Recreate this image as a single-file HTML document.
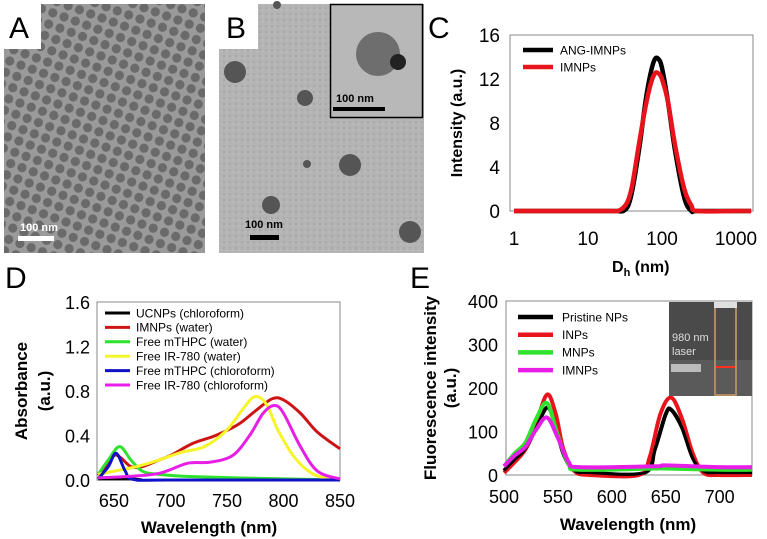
<!DOCTYPE html>
<html><head><meta charset="utf-8">
<style>
html,body{margin:0;padding:0;background:#fff;width:767px;height:539px;overflow:hidden;font-family:"Liberation Sans",Arial,sans-serif}
svg{position:absolute;left:0;top:0}
</style></head>
<body>
<svg id="fig" width="767" height="539" viewBox="0 0 767 539" xmlns="http://www.w3.org/2000/svg">
<defs>
<pattern id="npA" width="12" height="12" patternUnits="userSpaceOnUse" patternTransform="rotate(20)">
<rect width="12" height="12" fill="#9a9a9a"/>
<circle cx="6" cy="6" r="4.6" fill="#6a6a6a"/>
</pattern>
<pattern id="noiseB" width="6" height="6" patternUnits="userSpaceOnUse">
<rect width="6" height="6" fill="#b4b4b4"/><circle cx="2" cy="2" r="1" fill="#a4a4a4"/><circle cx="5" cy="4" r="0.8" fill="#c2c2c2"/>
</pattern>
</defs>
<g>
<rect x="4" y="4" width="201" height="249" fill="url(#npA)"/>
<rect x="4" y="4" width="37" height="45" fill="#fff"/>
<text x="9" y="38" font-size="30" fill="#000">A</text>
<text x="20" y="231" font-size="11" font-weight="bold" fill="#fff">100 nm</text>
<rect x="18" y="236" width="36" height="5" fill="#fff"/>
</g>
<g>
<rect x="219" y="4" width="205" height="249" fill="url(#noiseB)"/>
<rect x="219" y="4" width="39" height="45" fill="#fff"/>
<text x="226" y="38" font-size="30" fill="#000">B</text>
<g fill="#555">
<circle cx="235" cy="72" r="11"/><circle cx="305" cy="98" r="8"/><circle cx="307" cy="164" r="4"/><circle cx="350" cy="165" r="11"/><circle cx="271" cy="205" r="9"/><circle cx="410" cy="232" r="11"/><circle cx="277" cy="5" r="4"/>
</g>
<text x="245" y="228" font-size="11" font-weight="bold" fill="#000">100 nm</text>
<rect x="250" y="235" width="29" height="5" fill="#000"/>
<g>
<rect x="330.5" y="4.5" width="92" height="113" fill="#b8b8b8" stroke="#000" stroke-width="1.5"/>
<circle cx="378" cy="54" r="22" fill="#6e6e6e"/><circle cx="398" cy="62" r="8" fill="#222"/>
<text x="336" y="102" font-size="11" font-weight="bold" fill="#000">100 nm</text>
<rect x="333" y="107" width="52" height="4" fill="#000"/>
</g>
</g>
<text x="428" y="38" font-size="30" fill="#000">C</text>
<text x="5" y="288" font-size="30" fill="#000">D</text>
<text x="410" y="288" font-size="30" fill="#000">E</text>
<g id="chartC"></g>
<g id="chartD"></g>
<g id="chartE"></g>
</svg>
<script>
// ---- Chart C data ----
const cX = [1,10,20,25,30,35,40,50,60,70,80,90,100,120,150,200,250,300,1000,1600];
const cAng = [0,0,0,0,0,0.5,2,6,10,12.5,13.8,13.8,13,10,5.5,1.2,0,0,0,0];
const cImnp = [0,0,0,0,0.3,1,2.5,6.5,9.5,11.5,12.5,12.5,12,10,6,2,0.5,0,0,0];
const cYTicks = [0,4,8,12,16];
const cXTicks = [1,10,100,1000];
const cSeriesNames = ["ANG-IMNPs","IMNPs"];
// ---- Chart D data ----
const dXTicks = [650,700,750,800,850];
const dYTicks = ["0.0","0.4","0.8","1.2","1.6"];
const dNames = ["UCNPs (chloroform)","IMNPs (water)","Free mTHPC (water)","Free IR-780 (water)","Free mTHPC (chloroform)","Free IR-780 (chloroform)"];
const dUcX = [636,645,655,665,675];
const dUcY = [0.01,0.01,0.01,0.01,0];
const dRedX = [636,642,650,656,665,675,690,700,720,740,760,775,790,800,815,830,850];
const dRedY = [0.04,0.12,0.22,0.2,0.12,0.12,0.18,0.22,0.33,0.4,0.5,0.62,0.73,0.72,0.6,0.43,0.28];
const dGrnX = [636,645,655,665,675,690,720,800,850];
const dGrnY = [0.05,0.18,0.3,0.18,0.08,0.05,0.03,0.01,0];
const dYelX = [636,650,670,690,710,730,750,765,775,785,795,810,825,840,850];
const dYelY = [0.05,0.08,0.12,0.18,0.25,0.3,0.45,0.65,0.75,0.68,0.45,0.2,0.06,0.01,0];
const dBluX = [636,645,652,660,667,700,850];
const dBluY = [0.01,0.12,0.24,0.08,0.005,0,0];
const dMagX = [636,660,690,715,735,755,770,782,792,800,815,830,850];
const dMagY = [0.02,0.03,0.06,0.15,0.16,0.22,0.4,0.6,0.67,0.6,0.3,0.08,0.01];
// ---- Chart E data ----
const eXTicks = [500,550,600,650,700];
const eYTicks = [0,100,200,300,400];
const eNames = ["Pristine NPs","INPs","MNPs","IMNPs"];
const eBlkX = [500,510,520,530,540,547,555,565,580,630,640,650,655,665,675,685,700,730];
const eBlkY = [10,35,60,110,155,120,50,10,5,5,60,140,150,110,40,8,5,5];
const eRedX = [500,510,520,530,540,548,555,565,580,625,635,645,655,665,675,685,700,730];
const eRedY = [5,30,60,120,185,140,60,10,0,0,40,140,178,130,50,5,0,0];
const eGrnX = [500,510,520,530,540,550,560,570,640,650,700,730];
const eGrnY = [20,50,75,130,165,90,25,12,15,15,12,12];
const eMagX = [500,510,520,530,540,550,560,570,640,650,700,730];
const eMagY = [20,45,65,105,132,85,30,18,20,22,18,18];

const NS="http://www.w3.org/2000/svg";
function mk(parent,tag,attrs,txt){const e=document.createElementNS(NS,tag);for(const k in attrs)e.setAttribute(k,attrs[k]);if(txt!==undefined)e.textContent=txt;parent.appendChild(e);return e;}
function smooth(pts){let d="M"+pts[0][0]+","+pts[0][1];for(let i=0;i<pts.length-1;i++){const p0=pts[i-1]||pts[i],p1=pts[i],p2=pts[i+1],p3=pts[i+2]||p2;const c1=[p1[0]+(p2[0]-p0[0])/6,p1[1]+(p2[1]-p0[1])/6],c2=[p2[0]-(p3[0]-p1[0])/6,p2[1]-(p3[1]-p1[1])/6];d+=" C"+c1+" "+c2+" "+p2;}return d;}
function series(g,xs,ys,sx,sy,color,w,name){const p=mk(g,"path",{d:smooth(xs.map((x,i)=>[sx(x),sy(ys[i])])),fill:"none",stroke:color,"stroke-width":w,"stroke-linejoin":"round"});


return p;}
function frame(g,x0,y0,x1,y1){const r=mk(g,"rect",{x:x0,y:y0,width:x1-x0,height:y1-y0,fill:"none",stroke:"#888","stroke-width":1});

}
function legend(g,names,colors,lx0,lx1,tx,y0,dy,fs,w){names.forEach((n,i)=>{const y=y0+i*dy;const l=mk(g,"line",{x1:lx0,x2:lx1,y1:y,y2:y,stroke:colors[i],"stroke-width":w});


const t=mk(g,"text",{x:tx,y:y+fs*0.36,"font-size":fs,fill:"#000"},n);

});}
function tickLabel(g,x,y,s,anchor,fs){const t=mk(g,"text",{x:x,y:y,"font-size":fs,"text-anchor":anchor,fill:"#000"},s);

}

// Chart C
(function(){const g=document.getElementById("chartC");const X0=510,X1=753,Y0=35,Y1=211;
const sx=v=>514+74*Math.log10(v), sy=v=>Y1-(v/16)*(Y1-Y0);
frame(g,X0,Y0,X1,Y1);
cYTicks.forEach(v=>tickLabel(g,500,sy(v)+7,String(v),"end",19));
cXTicks.forEach(v=>tickLabel(g,sx(v),245,String(v),"middle",19));
series(g,cX,cAng,sx,sy,"#000",4.5,"series-ang-imnps");
series(g,cX,cImnp,sx,sy,"#e8141b",4.5,"series-imnps");
legend(g,cSeriesNames,["#000","#e8141b"],523,553,560,50,17,12,4.5);
const yt=mk(g,"text",{transform:"translate(462,123) rotate(-90)","font-size":16,"font-weight":"bold","text-anchor":"middle"},"Intensity (a.u.)");

const xt=mk(g,"text",{x:612,y:272,"font-size":16,"font-weight":"bold"});

mk(xt,"tspan",{},"D");mk(xt,"tspan",{"font-size":11,dy:4},"h");mk(xt,"tspan",{dy:-4}," (nm)");
})();
// Chart D
(function(){const g=document.getElementById("chartD");const X0=97,X1=340,Y0=302,Y1=480;
const sx=v=>X1-(850-v)*(X1-X0)/215, sy=v=>Y1-(v/1.6)*(Y1-Y0);
frame(g,X0,Y0,X1,Y1);
dYTicks.forEach(s=>tickLabel(g,90,sy(parseFloat(s))+7,s,"end",18));
dXTicks.forEach(v=>tickLabel(g,sx(v),507,String(v),"middle",18));
series(g,dUcX,dUcY,sx,sy,"#000",3,"series-ucnps");
series(g,dRedX,dRedY,sx,sy,"#cc1616",3,"series-imnps-water");
series(g,dGrnX,dGrnY,sx,sy,"#2ee22e",3,"series-mthpc-water");
series(g,dYelX,dYelY,sx,sy,"#f5f52a",3,"series-ir780-water");
series(g,dBluX,dBluY,sx,sy,"#1010c8",3,"series-mthpc-chloroform");
series(g,dMagX,dMagY,sx,sy,"#e61ee6",3,"series-ir780-chloroform");
legend(g,dNames,["#000","#cc1616","#2ee22e","#f5f52a","#1010c8","#e61ee6"],105,130,136,313,14.4,12,3);
const t1=mk(g,"text",{transform:"translate(27,391) rotate(-90)","font-size":17,"font-weight":"bold","text-anchor":"middle"},"Absorbance");

const t2=mk(g,"text",{transform:"translate(50,391) rotate(-90)","font-size":17,"font-weight":"bold","text-anchor":"middle"},"(a.u.)");

const xt=mk(g,"text",{x:209,y:533,"font-size":17,"font-weight":"bold","text-anchor":"middle"},"Wavelength (nm)");

})();
// Chart E
(function(){const g=document.getElementById("chartE");const X0=506,X1=752,Y0=301,Y1=475;
const sx=v=>504+(v-500)*(X1-504)/230, sy=v=>Y1-(v/400)*(Y1-Y0);
frame(g,X0,Y0,X1,Y1);
eYTicks.forEach(v=>tickLabel(g,498,sy(v)+7,String(v),"end",18));
eXTicks.forEach(v=>tickLabel(g,sx(v),503,String(v),"middle",18));
series(g,eBlkX,eBlkY,sx,sy,"#000",4,"series-pristine");
series(g,eRedX,eRedY,sx,sy,"#e8141b",4,"series-inps");
series(g,eBlkX,eBlkY,sx,sy,"#000",2.5,"series-pristine-top");
series(g,eGrnX,eGrnY,sx,sy,"#2ee22e",4,"series-mnps");
series(g,eMagX,eMagY,sx,sy,"#e61ee6",4,"series-imnps-e");
legend(g,eNames,["#000","#e8141b","#2ee22e","#e61ee6"],518,553,562,317,17.7,12,4.5);
const ins=mk(g,"g",{});

mk(ins,"rect",{x:669,y:302,width:83,height:94,fill:"#4a4a4a"});
mk(ins,"rect",{x:669,y:360,width:83,height:36,fill:"#5a5a5a"});
mk(ins,"rect",{x:715,y:303,width:21,height:92,fill:"none",stroke:"#b08a60","stroke-width":2});
mk(ins,"rect",{x:714,y:302,width:23,height:6,fill:"#e0e0e0"});
mk(ins,"line",{x1:716,x2:735,y1:367,y2:367,stroke:"#ff3020","stroke-width":2});
mk(ins,"rect",{x:671,y:364,width:30,height:8,fill:"#bbb"});
mk(ins,"text",{x:672,y:341,"font-size":11,fill:"#ddd"},"980 nm");
mk(ins,"text",{x:672,y:355,"font-size":11,fill:"#ddd"},"laser");
const t1=mk(g,"text",{transform:"translate(436,388) rotate(-90)","font-size":17,"font-weight":"bold","text-anchor":"middle"},"Fluorescence intensity");

const t2=mk(g,"text",{transform:"translate(456,388) rotate(-90)","font-size":17,"font-weight":"bold","text-anchor":"middle"},"(a.u.)");

const xt=mk(g,"text",{x:628,y:530,"font-size":17,"font-weight":"bold","text-anchor":"middle"},"Wavelength (nm)");

})();
</script>
</body></html>
